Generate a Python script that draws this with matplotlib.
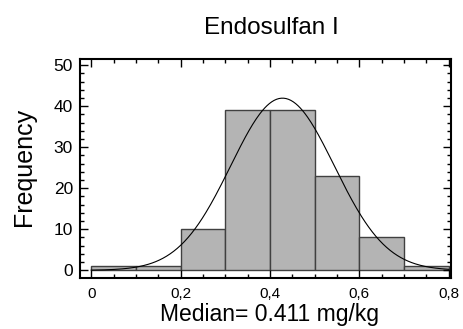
import numpy as np
import matplotlib
matplotlib.use("Agg")
import matplotlib.pyplot as plt
from matplotlib.ticker import MultipleLocator, FuncFormatter

plt.rcParams['font.family'] = ['Liberation Sans', 'DejaVu Sans']

# histogram data
bin_edges = [0.0, 0.1, 0.2, 0.3, 0.4, 0.5, 0.6, 0.7, 0.8]
counts = [1, 1, 10, 39, 39, 23, 8, 1]

# fitted normal curve parameters
fit_mean = 0.428
fit_sd = 0.116

title = "Endosulfan I"
xlabel = "Median= 0.411 mg/kg"
ylabel = "Frequency"

fig = plt.figure(figsize=(4.64, 3.29), dpi=100)
ax = fig.add_axes([80 / 464, 1 - 277.7 / 329, 371 / 464, 218.7 / 329])

widths = np.diff(bin_edges)
ax.bar(bin_edges[:-1], counts, width=widths, align='edge',
       color='#b4b4b4', edgecolor='#404040', linewidth=1.0)

# normal curve scaled to counts
n_total = sum(counts)
xs = np.linspace(0.0, 0.8, 300)
ys = n_total * 0.1 / (fit_sd * np.sqrt(2 * np.pi)) * np.exp(-0.5 * ((xs - fit_mean) / fit_sd) ** 2)
ax.plot(xs, ys, color='black', linewidth=0.8)

ax.set_xlim(-0.025, 0.805)
ax.set_ylim(-1.8, 51.5)

ax.xaxis.set_major_locator(MultipleLocator(0.2))
ax.xaxis.set_minor_locator(MultipleLocator(0.05))
ax.yaxis.set_major_locator(MultipleLocator(10))
ax.yaxis.set_minor_locator(MultipleLocator(2))

def comma_fmt(v, pos):
    s = f"{v:.1f}".replace('.', ',')
    return "0" if abs(v) < 1e-9 else s

ax.xaxis.set_major_formatter(FuncFormatter(comma_fmt))

ax.tick_params(which='both', direction='in', top=True, right=True, width=1.0)
ax.tick_params(which='major', length=6)
ax.tick_params(which='minor', length=3)
ax.tick_params(axis='x', which='major', labelsize=11, pad=6.5)
ax.tick_params(axis='y', which='major', labelsize=12.5, pad=5)

for sp in ax.spines.values():
    sp.set_linewidth(1.5)

fig.text(271 / 464, 1 - 34 / 329, title, ha='center', va='baseline', fontsize=17.5)
fig.text(270 / 464, 1 - 321 / 329, xlabel, ha='center', va='baseline', fontsize=16.5)
fig.text(24 / 464, 1 - 167 / 329, ylabel, ha='center', va='center', fontsize=18, rotation=90)

fig.savefig("out.png", dpi=100)
